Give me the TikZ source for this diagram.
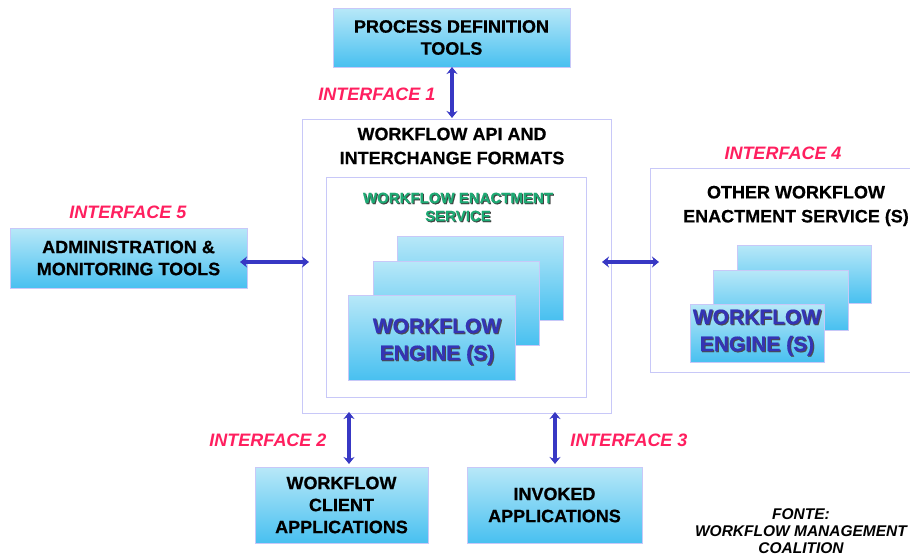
\documentclass[tikz,border=0pt]{standalone}
\usepackage{fontspec}
\setmainfont{Liberation Sans}[BoldFeatures={FakeBold=0.5}]
\usetikzlibrary{arrows.meta}
\definecolor{boxline}{HTML}{C8C8F8}
\definecolor{gradtop}{HTML}{B8E8F8}
\definecolor{gradbot}{HTML}{48C0F0}
\definecolor{linkblue}{HTML}{3838C4}
\definecolor{ifred}{HTML}{FF1F5F}
\definecolor{wesgreen}{HTML}{1EAA74}
\definecolor{engblue}{HTML}{3434B4}
\tikzset{
  gbox/.style={draw=boxline, line width=1pt, top color=gradtop, bottom color=gradbot,
    inner sep=0pt, align=center, font=\bfseries\fontsize{18}{22}\selectfont},
  frame/.style={draw=boxline, line width=1pt, fill=white, inner sep=0pt},
  title/.style={align=center, font=\bfseries\fontsize{18}{24}\selectfont},
  iflabel/.style={text=ifred, font=\bfseries\itshape\fontsize{18}{22}\selectfont},
  engtext/.style={text=engblue, align=center, font=\bfseries\fontsize{21}{27}\selectfont},
  biarrow/.style={draw=linkblue, line width=3.6pt, {Stealth[length=7pt,width=11pt]}-{Stealth[length=7pt,width=11pt]}},
}
\begin{document}
\begin{tikzpicture}[x=1pt,y=-1pt]
\useasboundingbox (0,0) rectangle (910,557);

% top tool box
\node[gbox, minimum width=237pt, minimum height=59pt] (pdt) at (451.5,37.5)
  {PROCESS DEFINITION\\TOOLS};

% central API frame with the enactment service inside
\node[frame, minimum width=309pt, minimum height=294pt] (api) at (456.5,266) {};
\node[title] (apititle) at (452,146) {WORKFLOW API AND\\INTERCHANGE FORMATS};
\node[frame, minimum width=260pt, minimum height=220pt] (wes) at (456,287) {};
\node[align=center, text=black!75, font=\bfseries\fontsize{15}{18}\selectfont] (wesshadow) at (459,208)
  {WORKFLOW ENACTMENT\\SERVICE};
\node[align=center, text=wesgreen, font=\bfseries\fontsize{15}{18}\selectfont] (westitle) at (458,207)
  {WORKFLOW ENACTMENT\\SERVICE};

% stacked engines
\node[gbox, minimum width=166pt, minimum height=84pt] (eng3) at (480,278) {};
\node[gbox, minimum width=166pt, minimum height=84pt] (eng2) at (456,303) {};
\node[gbox, minimum width=167pt, minimum height=85pt] (eng1) at (431.5,337.5) {};
\node[engtext, text=black!70] (eng1shadow) at (438,342.5) {WORKFLOW\\ENGINE (S)};
\node[engtext] (eng1text) at (437,341.5) {WORKFLOW\\ENGINE (S)};

% other enactment service (runs off the right edge)
\node[frame, minimum width=300pt, minimum height=204pt] (other) at (800,270) {};
\node[title] (othertitle) at (796,206) {OTHER WORKFLOW\\ENACTMENT SERVICE (S)};
\node[gbox, minimum width=134pt, minimum height=58pt] (oeng3) at (804,274) {};
\node[gbox, minimum width=135pt, minimum height=60pt] (oeng2) at (780.5,300) {};
\node[gbox, minimum width=134pt, minimum height=58pt] (oeng1) at (757,333) {};
\node[engtext, text=black!70] (oeng1shadow) at (758,333.5) {WORKFLOW\\ENGINE (S)};
\node[engtext] (oeng1text) at (757,332.5) {WORKFLOW\\ENGINE (S)};

% admin tools
\node[gbox, minimum width=237pt, minimum height=60pt] (admin) at (128.5,258)
  {ADMINISTRATION \&\\MONITORING TOOLS};

% bottom applications
\node[gbox, minimum width=173pt, minimum height=76pt] (client) at (341.5,505)
  {WORKFLOW\\CLIENT\\APPLICATIONS};
\node[gbox, minimum width=175pt, minimum height=76pt] (invoked) at (554.5,505)
  {INVOKED\\APPLICATIONS};

% interface labels
\node[iflabel] (if1) at (377,94) {INTERFACE 1};
\node[iflabel] (if2) at (268,440) {INTERFACE 2};
\node[iflabel] (if3) at (629,440) {INTERFACE 3};
\node[iflabel] (if4) at (783,153) {INTERFACE 4};
\node[iflabel] (if5) at (128,212) {INTERFACE 5};

% arrow end points
\coordinate (a1s) at (452,67);
\coordinate (a1e) at (452,118);
\coordinate (a5s) at (240,262);
\coordinate (a5e) at (309,262);
\coordinate (a4s) at (602,262);
\coordinate (a4e) at (659,262);
\coordinate (a2s) at (349,412);
\coordinate (a2e) at (349,464);
\coordinate (a3s) at (555,412);
\coordinate (a3e) at (555,464);

\draw[biarrow] (a1s) -- (a1e);
\draw[biarrow] (a5s) -- (a5e);
\draw[biarrow] (a4s) -- (a4e);
\draw[biarrow] (a2s) -- (a2e);
\draw[biarrow] (a3s) -- (a3e);

% source note
\node[align=center, font=\bfseries\itshape\fontsize{15.5}{17}\selectfont] (fonte) at (801,531)
  {FONTE:\\WORKFLOW MANAGEMENT\\COALITION};
\end{tikzpicture}
\end{document}
